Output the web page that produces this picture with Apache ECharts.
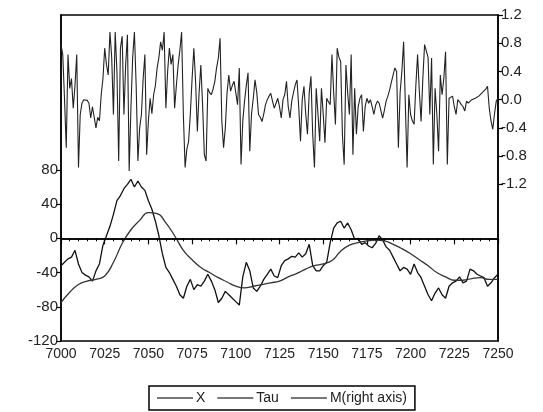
<!DOCTYPE html>
<html>
<head>
    <meta charset="utf-8">
    <title>X, Tau, M</title>
    <script src="https://cdn.jsdelivr.net/npm/echarts@6/dist/echarts.min.js"></script>
</head>
<body style="margin:0">
    <div id="main" style="width:543px;height:412px;"></div>
    <script type="text/javascript">
        // period range
        var tStart = 7000;
        var tEnd = 7250;

        // X, every 2 periods from 7000
        var xStep = 2;
        var xValues = [
            -32, -28, -24, -22, -14, -30, -40, -43, -45, -50, -38, -30, -8, 3, 14, 28,
            44, 50, 58, 63, 69, 60, 67, 60, 56, 44, 34, 20, 3, -18, -34, -40,
            -48, -56, -66, -70, -56, -48, -60, -54, -56, -50, -42, -50, -60, -75, -70, -62,
            -66, -70, -74, -78, -45, -28, -38, -58, -62, -56, -48, -42, -36, -44, -46, -32,
            -26, -24, -21, -22, -17, -22, -18, -7, -32, -38, -38, -32, -28, -5, 12, 18,
            20, 12, 18, 10, -1, 0, -7, -5, -9, -11, -6, 3, -2, -10, -14, -22,
            -30, -38, -34, -36, -42, -30, -40, -46, -56, -66, -73, -64, -58, -66, -70, -56,
            -52, -50, -45, -52, -50, -36, -38, -42, -44, -46, -56, -52, -46, -42
        ];

        // Tau, every 5 periods from 7000
        var tauStep = 5;
        var tauValues = [
            -75, -63, -54, -50, -48, -44, -28, -6, 10, 21, 30, 29, 18, 3, -14, -25,
            -34, -40, -46, -51, -56, -58, -56, -54, -52, -50, -45, -41, -36, -32, -30, -26,
            -15, -8, -5, -3, -2, -3, -7, -12, -18, -25, -32, -40, -45, -49, -49, -47,
            -46, -48, -48
        ];

        // M (right axis), every period from 7000
        var mStep = 1;
        var mValues = [
            0.78, 0.64, 0.02, -0.68, 0.64, 0.16, 0.3, -0.12, 0.2, 0.64,
            -0.96, -0.21, -0.05, 0.0, -0.02, -0.01, -0.05, -0.26, -0.1, -0.12,
            -0.4, -0.25, -0.3, 0.07, 0.3, 0.73, 0.5, 0.35, 0.96, 0.6,
            -0.21, 0.96, 0.4, -0.87, 0.73, 0.9, -0.21, 0.5, 0.92, -1.01,
            -0.12, 0.6, 0.96, 0.2, -0.87, -0.4, -0.21, 0.3, 0.64, -0.78,
            -0.3, 0.02, -0.2, 0.07, 0.2, 0.45, 0.6, 0.82, 0.7, 0.96,
            -0.12, 0.4, 0.73, 0.5, 0.64, -0.12, 0.2, 0.49, 0.7, 0.96,
            -0.21, -0.96, -0.7, -0.59, -0.2, 0.3, 0.73, 0.26, -0.45, 0.1,
            0.49, -0.07, -0.78, -0.87, 0.16, 0.1, 0.07, 0.15, 0.26, 0.45,
            0.59, 0.87, -0.3, -0.68, -0.4, 0.1, 0.35, 0.12, 0.2, 0.26,
            0.1, -0.07, 0.45, -0.92, -0.3, -0.02, 0.2, 0.38, -0.73, -0.2,
            0.02, 0.28, 0.1, -0.21, -0.25, -0.31, -0.2, -0.07, 0.0, 0.05,
            0.09, -0.02, -0.12, -0.05, 0.02, -0.1, -0.26, 0.0, 0.07, 0.26,
            -0.1, -0.26, -0.02, 0.1, 0.21, 0.28, -0.1, -0.59, 0.0, 0.19,
            -0.2, -0.49, 0.1, 0.33, -0.5, -0.96, 0.16, -0.2, -0.59, 0.16,
            -0.2, -0.61, 0.02, -0.03, -0.07, 0.64, 0.1, -0.35, 0.73, 0.6,
            0.54, -0.5, -0.92, 0.49, 0.1, -0.21, 0.64, -0.78, 0.16, -0.49,
            -0.1, 0.02, 0.07, -0.45, -0.1, 0.02, -0.05, 0.0, -0.1, -0.21,
            -0.08, -0.02, -0.05, -0.07, -0.26, -0.15, -0.02, 0.05, 0.14, 0.25,
            0.35, 0.45, 0.4, -0.68, 0.1, 0.4, 0.82, 0.82, -0.96, 0.07,
            -0.21, -0.3, -0.35, 0.2, 0.64, 0.12, -0.31, 0.3, 0.78, 0.78,
            0.6, -0.21, 0.59, -0.92, 0.16, -0.2, -0.73, 0.35, 0.07, 0.3,
            0.68, -0.92, 0.02, 0.03, 0.05, -0.1, -0.21, 0.0, -0.03, -0.07,
            -0.1, -0.16, -0.02, -0.05, -0.07, 0.0, 0.0, 0.02, 0.02, 0.05,
            0.07, 0.1, 0.12, 0.15, 0.19, -0.12, -0.3, -0.42, -0.2, -0.02,
            0.02
        ];

        // tick labels
        var leftTicks = [-120, -80, -40, 0, 40, 80];
        var rightTicks = [-1.2, -0.8, -0.4, 0, 0.4, 0.8, 1.2];

        function toPairs(values, step) {
            return values.map(function (v, i) {
                return [tStart + i * step, v];
            });
        }

        var font = "'Liberation Sans Narrow', 'Liberation Sans', Arial, sans-serif";
        var myChart = echarts.init(document.getElementById('main'));

        var option = {
            backgroundColor: '#fff',
            animation: false,
            grid: {
                left: 61, right: 45, top: 15, bottom: 71,
                show: true, borderColor: '#000', borderWidth: 1.5
            },
            legend: {
                left: 149, top: 386,
                padding: [5, 8],
                borderColor: '#000', borderWidth: 1.5,
                icon: 'rect',
                itemWidth: 36, itemHeight: 2, itemGap: 12,
                selectedMode: false,
                itemStyle: { color: '#777' },
                textStyle: { fontFamily: font, fontSize: 14, color: '#222', padding: [0, 0, 0, -2] },
                data: ['X', 'Tau', 'M(right axis)']
            },
            xAxis: {
                type: 'value',
                min: tStart, max: tEnd, interval: 25,
                axisLine: { lineStyle: { color: '#000', width: 1.5 } },
                axisTick: { length: 6, lineStyle: { color: '#000', width: 1.2 } },
                minorTick: { show: true, splitNumber: 5, length: 3, lineStyle: { color: '#000', width: 1 } },
                splitLine: { show: false },
                axisLabel: {
                    fontFamily: font, fontSize: 14, color: '#222', margin: 6,
                    formatter: function (v) { return String(v); }
                }
            },
            yAxis: [
                {
                    type: 'value',
                    min: -120, max: 261,
                    axisLine: { show: true, lineStyle: { color: '#000', width: 1.5 } },
                    axisTick: { show: true, length: 5, customValues: leftTicks, lineStyle: { color: '#000', width: 1.2 } },
                    splitLine: { show: false },
                    axisLabel: { customValues: leftTicks, fontFamily: font, fontSize: 15, color: '#222', margin: 3 }
                },
                {
                    type: 'value',
                    min: -3.42, max: 1.2,
                    position: 'right',
                    axisLine: { show: true, lineStyle: { color: '#000', width: 1.5 } },
                    axisTick: { show: true, length: 5, customValues: rightTicks, lineStyle: { color: '#000', width: 1.2 } },
                    splitLine: { show: false },
                    axisLabel: {
                        customValues: rightTicks, fontFamily: font, fontSize: 15, color: '#222', margin: 3,
                        formatter: function (v) { return v.toFixed(1); }
                    }
                }
            ],
            series: [
                {
                    name: 'X', type: 'line', yAxisIndex: 0,
                    data: toPairs(xValues, xStep),
                    showSymbol: false, symbol: 'none',
                    lineStyle: { color: '#111', width: 1.3 },
                    itemStyle: { color: '#111' },
                    markLine: {
                        silent: true, symbol: 'none', label: { show: false },
                        lineStyle: { color: '#000', type: 'solid', width: 1.5 },
                        data: [{ yAxis: 0 }]
                    }
                },
                {
                    name: 'Tau', type: 'line', yAxisIndex: 0,
                    data: toPairs(tauValues, tauStep),
                    smooth: true, showSymbol: false, symbol: 'none',
                    lineStyle: { color: '#333', width: 1.3 },
                    itemStyle: { color: '#333' }
                },
                {
                    name: 'M(right axis)', type: 'line', yAxisIndex: 1,
                    data: toPairs(mValues, mStep),
                    showSymbol: false, symbol: 'none',
                    lineStyle: { color: '#222', width: 1.1 },
                    itemStyle: { color: '#222' }
                }
            ]
        };
        myChart.setOption(option);
    </script>
</body>
</html>
